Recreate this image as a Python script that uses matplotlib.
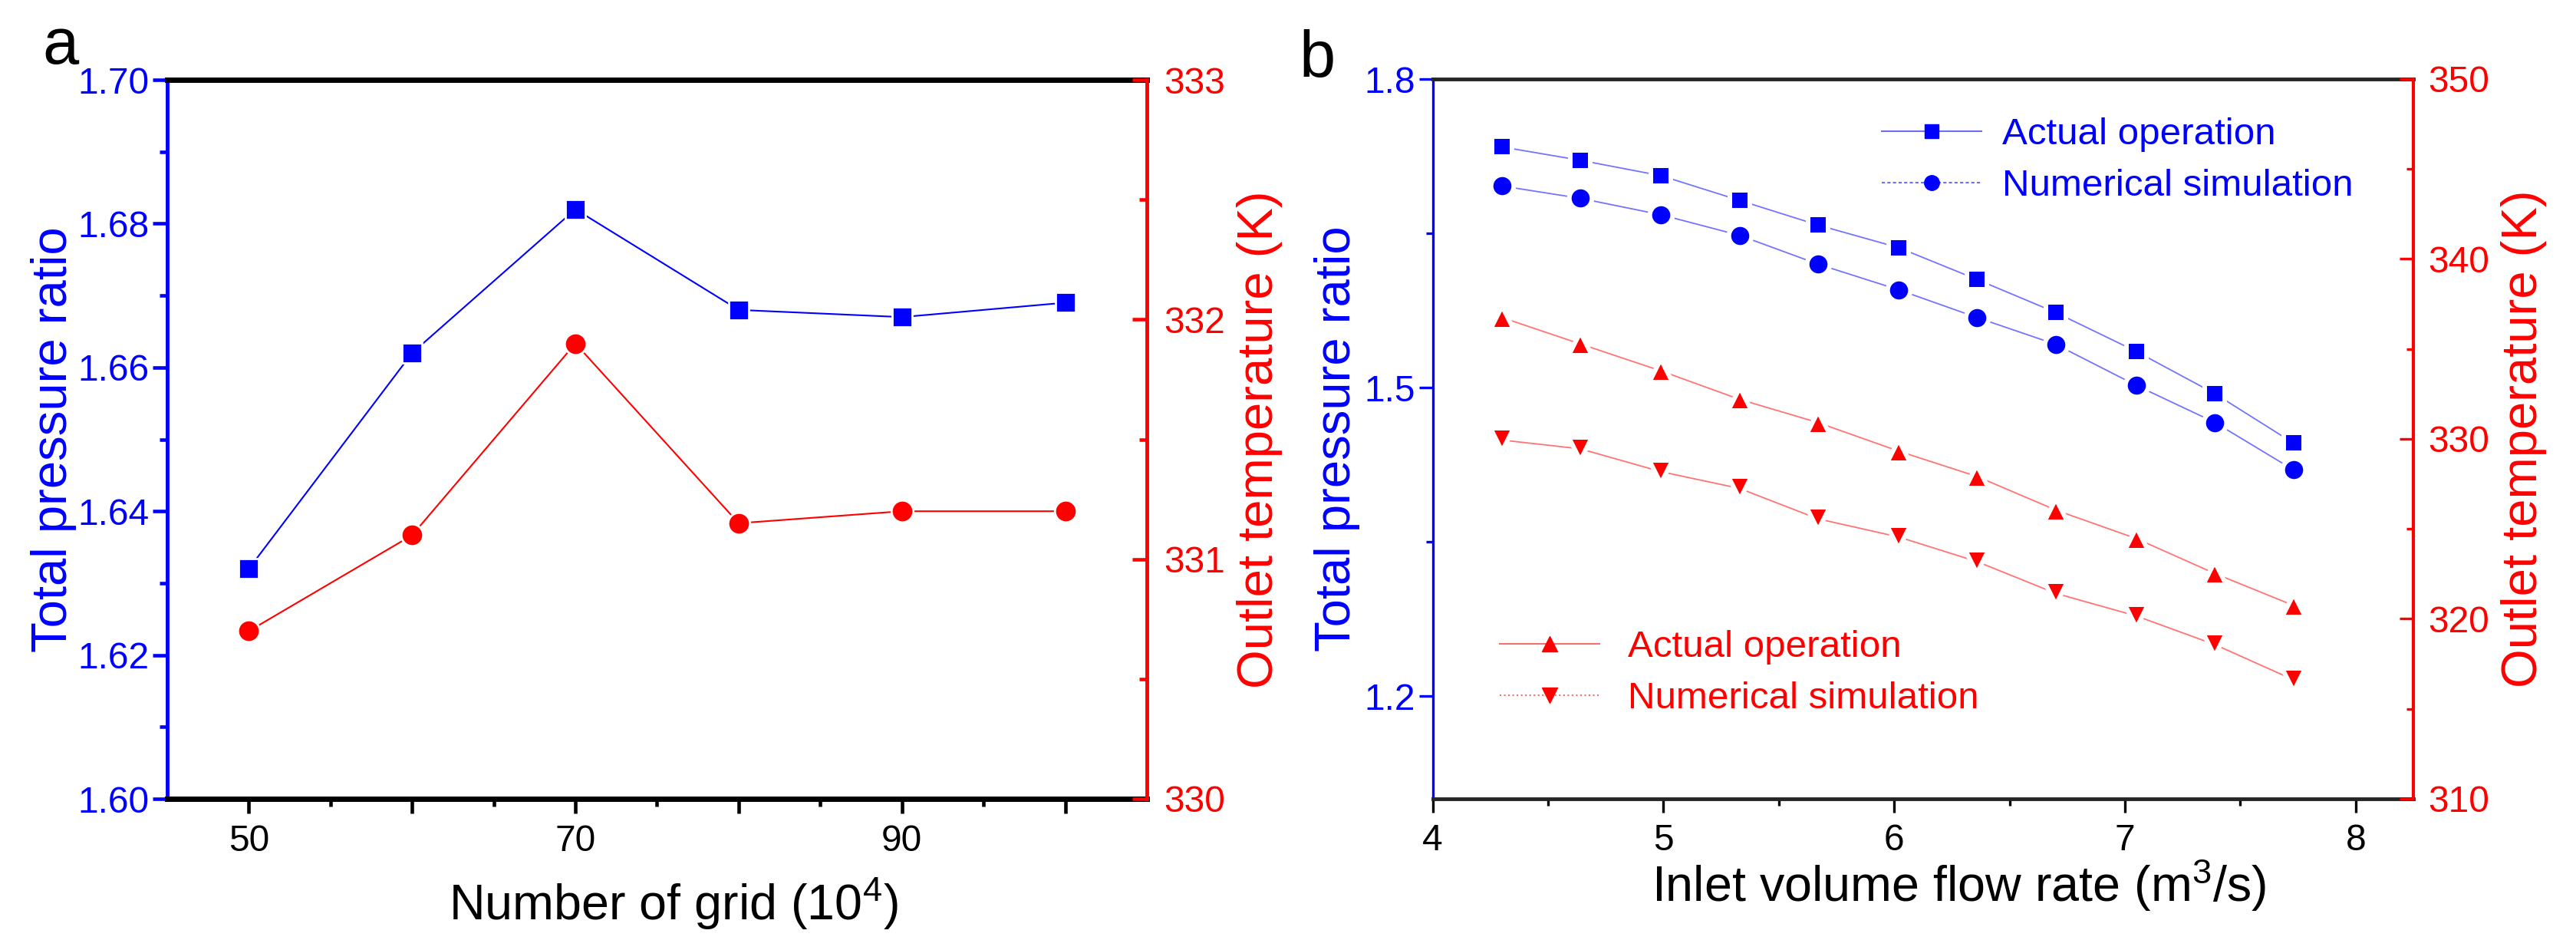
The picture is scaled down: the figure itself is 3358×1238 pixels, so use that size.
import matplotlib
matplotlib.use('Agg')
import matplotlib.pyplot as plt
from matplotlib.lines import Line2D
from matplotlib.ticker import MultipleLocator, FixedLocator, FormatStrFormatter

plt.rcParams['font.family'] = ['Liberation Sans', 'DejaVu Sans']
plt.rcParams['mathtext.fontset'] = 'custom'
plt.rcParams['mathtext.rm'] = 'Liberation Sans'
plt.rcParams['mathtext.default'] = 'rm'

# panel a: grid independence
grid = [50, 60, 70, 80, 90, 100]
grid_pressure = [1.632, 1.662, 1.682, 1.668, 1.667, 1.669]
grid_temp = [330.70, 331.10, 331.90, 331.15, 331.20, 331.20]

# panel b: validation against operation data
flow = [4.30, 4.64, 4.99, 5.33, 5.67, 6.02, 6.36, 6.70, 7.05, 7.39, 7.73]
p_actual = [1.734, 1.721, 1.706, 1.682, 1.658, 1.636, 1.605, 1.573, 1.535, 1.494, 1.446]
p_sim = [1.696, 1.684, 1.668, 1.648, 1.620, 1.595, 1.568, 1.542, 1.502, 1.466, 1.420]
t_actual = [336.75, 335.28, 333.78, 332.20, 330.91, 329.32, 327.91, 326.05, 324.46, 322.52, 320.75]
t_sim = [329.94, 329.45, 328.18, 327.25, 325.56, 324.55, 323.18, 321.42, 320.16, 318.57, 316.62]

legend_labels = ['Actual operation', 'Numerical simulation']

BLUE = '#0000ff'
RED = '#ff0000'
TS = 34.5

W, H = 3358, 1238
fig = plt.figure(figsize=(W / 100, H / 100), dpi=100)


def rect(l, r, t, b):
    return [l / W, 1 - b / H, (r - l) / W, (b - t) / H]


def series(ax, x, y, color, marker, ms, lc, lw, halo, alpha=1.0):
    ax.plot(x, y, '-', color=lc, lw=lw, alpha=alpha, zorder=2)
    ax.plot(x, y, ls='none', marker=marker, ms=ms + halo, mfc=color,
            mec='white', mew=halo, zorder=3)


def style(ax, ax2, tb_color, lw_tb, lw_l, lw_r, tw, major, minor, rpad):
    ax.spines['top'].set(color=tb_color, lw=lw_tb)
    ax.spines['bottom'].set(color=tb_color, lw=lw_tb)
    ax.spines['left'].set(color=BLUE, lw=lw_l)
    ax.spines['right'].set_visible(False)
    for s in ('top', 'bottom', 'left'):
        ax2.spines[s].set_visible(False)
    ax2.spines['right'].set(color=RED, lw=lw_r)
    ax.tick_params(axis='x', which='both', direction='out', colors='black',
                   width=tw, labelsize=TS, pad=10, top=False)
    ax.tick_params(axis='y', which='both', direction='out', colors=BLUE,
                   width=tw, labelsize=TS, pad=3.5, right=False)
    ax2.tick_params(axis='y', which='both', direction='in', colors=RED,
                    width=tw, labelsize=TS, pad=rpad)
    for a in (ax, ax2):
        a.tick_params(which='major', length=major)
        a.tick_params(which='minor', length=minor)


# ---- panel a ----
ax_a = fig.add_axes(rect(218, 1495, 104, 1041))
ax_a2 = ax_a.twinx()
series(ax_a, grid, grid_pressure, BLUE, 's', 16.5, BLUE, 1.5, 2)
series(ax_a2, grid, grid_temp, RED, 'o', 18.5, RED, 1.5, 2)

ax_a.set_xlim(45, 105)
ax_a.set_ylim(1.60, 1.70)
ax_a2.set_ylim(330, 333)
ax_a.set_xticks([50, 60, 70, 80, 90, 100], ['50', '', '70', '', '90', ''])
ax_a.xaxis.set_minor_locator(FixedLocator([55, 65, 75, 85, 95]))
ax_a.yaxis.set_major_locator(MultipleLocator(0.02))
ax_a.yaxis.set_minor_locator(MultipleLocator(0.01))
ax_a.yaxis.set_major_formatter(FormatStrFormatter('%.2f'))
ax_a2.yaxis.set_major_locator(MultipleLocator(1))
ax_a2.yaxis.set_minor_locator(MultipleLocator(0.5))
style(ax_a, ax_a2, 'black', 5, 3.5, 3.5, 3.3, 13.5, 7, 16)

ax_a.set_ylabel('Total pressure ratio', color=BLUE, fontsize=47)
ax_a.yaxis.set_label_coords(-0.0924, 0.5)
ax_a2.set_ylabel('Outlet temperature (K)', color=RED, fontsize=47)
ax_a2.yaxis.set_label_coords(1.0916, 0.5)
ax_a.set_xlabel(r'Number of grid (10$^4$)', fontsize=46.5)
ax_a.xaxis.set_label_coords(0.517, -0.1686)
ax_a.xaxis.label.set_va('baseline')

# ---- panel b ----
ax_b = fig.add_axes(rect(1867.5, 3146, 103, 1041))
ax_b2 = ax_b.twinx()
series(ax_b, flow, p_actual, BLUE, 's', 15, BLUE, 1.3, 4.3, 0.55)
series(ax_b, flow, p_sim, BLUE, 'o', 17, BLUE, 1.3, 4.3, 0.55)
series(ax_b2, flow, t_actual, RED, '^', 18, RED, 1.3, 4.3, 0.55)
series(ax_b2, flow, t_sim, RED, 'v', 18, RED, 1.3, 4.3, 0.55)

ax_b.set_xlim(4, 8.25)
ax_b.set_ylim(1.1, 1.8)
ax_b2.set_ylim(310, 350)
ax_b.xaxis.set_major_locator(MultipleLocator(1))
ax_b.xaxis.set_minor_locator(MultipleLocator(0.5))
ax_b.yaxis.set_major_locator(FixedLocator([1.2, 1.5, 1.8]))
ax_b.yaxis.set_minor_locator(FixedLocator([1.35, 1.65]))
ax_b.yaxis.set_major_formatter(FormatStrFormatter('%.1f'))
ax_b2.yaxis.set_major_locator(MultipleLocator(10))
ax_b2.yaxis.set_minor_locator(MultipleLocator(5))
style(ax_b, ax_b2, '#262626', 3.5, 2.4, 3, 2.4, 13, 6.5, 14)

ax_b.set_ylabel('Total pressure ratio', color=BLUE, fontsize=47)
ax_b.yaxis.set_label_coords(-0.0739, 0.5)
ax_b2.set_ylabel('Outlet temperature (K)', color=RED, fontsize=47)
ax_b2.yaxis.set_label_coords(1.0892, 0.5)
ax_b.set_xlabel(r'Inlet volume flow rate (m$^3$/s)', fontsize=46.5)
ax_b.xaxis.set_label_coords(0.537, -0.1429)
ax_b.xaxis.label.set_va('baseline')

blue_handles = [
    Line2D([], [], color='#6f6ff0', lw=1.5, marker='s', ms=13, mfc=BLUE, mec=BLUE),
    Line2D([], [], color='#6f6ff0', lw=1.5, ls=(0, (2, 1.5)), marker='o', ms=14,
           mfc=BLUE, mec=BLUE),
]
red_handles = [
    Line2D([], [], color='#f07070', lw=1.5, marker='^', ms=15, mfc=RED, mec=RED),
    Line2D([], [], color='#f07070', lw=1.5, ls=':', marker='v', ms=15, mfc=RED, mec=RED),
]
ax_b.legend(blue_handles, legend_labels, loc='upper left',
            bbox_to_anchor=(2453 / W, 1 - 153 / H), bbox_transform=fig.transFigure,
            frameon=False, fontsize=35.5, handlelength=2.64, handletextpad=0.55,
            labelspacing=0.45, borderpad=0, borderaxespad=0, labelcolor=BLUE)
ax_b2.legend(red_handles, legend_labels, loc='upper left',
             bbox_to_anchor=(1955 / W, 1 - 821 / H), bbox_transform=fig.transFigure,
             frameon=False, fontsize=35.5, handlelength=2.64, handletextpad=0.75,
             labelspacing=0.45, borderpad=0, borderaxespad=0, labelcolor=RED)

fig.text(55 / W, 1 - 83 / H, 'a', fontsize=61, va='baseline')
fig.text(1693 / W, 1 - 100 / H, 'b', fontsize=61, va='baseline')

fig.savefig('out.png', dpi=100)
